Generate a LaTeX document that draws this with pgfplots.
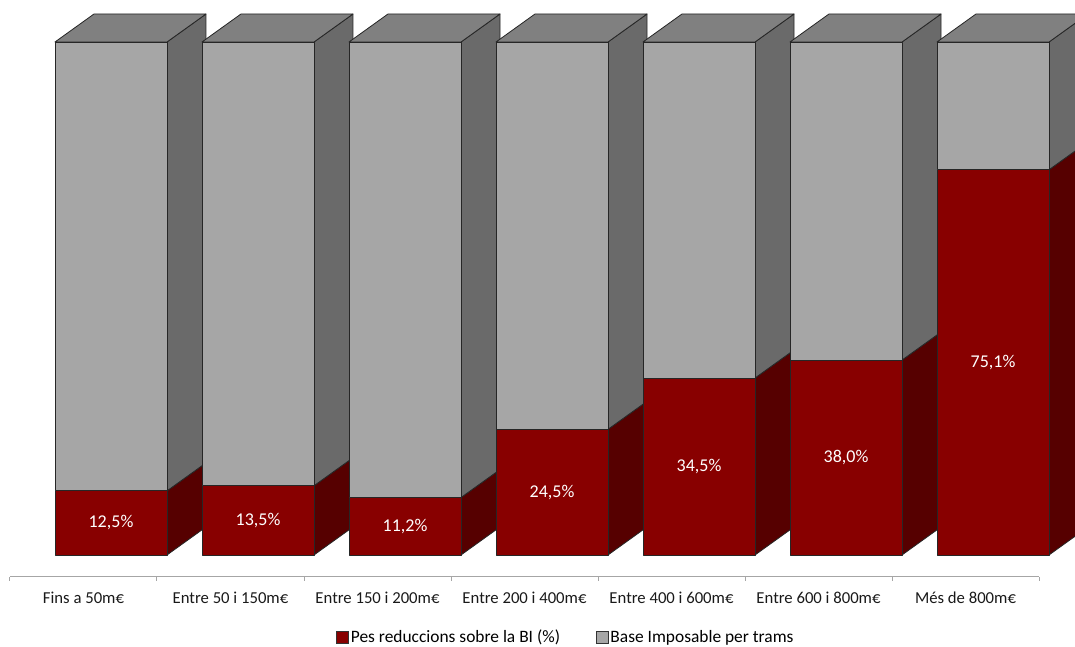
\documentclass[border=0pt]{standalone}
\usepackage{pgfplots}
\pgfplotsset{compat=1.18}
\usepackage{pgfplotstable}
\usepackage{fontspec}
\setmainfont{Carlito}

\definecolor{redfront}{HTML}{880000}
\definecolor{redside}{HTML}{560000}
\definecolor{grayfront}{HTML}{A6A6A6}
\definecolor{grayside}{HTML}{6A6A6A}
\definecolor{graytop}{HTML}{808080}
\definecolor{edge}{HTML}{262626}
\definecolor{axisgray}{HTML}{A6A6A6}

% share of the reductions in the taxable base, per bracket (%)
\pgfplotstableread{
x v
0 12.5
1 13.5
2 11.2
3 24.5
4 34.5
5 38.0
6 75.1
}\bitable

\begin{document}
\begin{tikzpicture}
\begin{axis}[
  scale only axis, width=1075pt, height=577pt,
  xmin=-0.5680, xmax=6.7449, ymin=-4.288, ymax=108.19,
  clip=false,
  axis x line*=bottom, axis y line=none,
  x axis line style={draw=none},
  xtick={-0.5,0.5,...,6.5}, x tick label as interval,
  xticklabels={Fins a 50m€, Entre 50 i 150m€, Entre 150 i 200m€, Entre 200 i 400m€,
               Entre 400 i 600m€, Entre 600 i 800m€, Més de 800m€, {}},
  tick align=outside, major tick length=4pt,
  x tick style={draw=axisgray, line width=1pt},
  xticklabel style={font=\fontsize{16.7}{20}\selectfont, text=black!90, yshift=-7pt},
  legend style={at={(0.5265,-0.104)}, anchor=center, draw=none, fill=none,
    legend columns=2, font=\fontsize{17.4}{21}\selectfont,
    /tikz/every even column/.append style={column sep=34pt}},
  legend cell align=left,
]
% 3D bars: side faces, top face, then front faces
\pgfplotsforeachungrouped \i in {0,...,6}{%
  \pgfplotstablegetelem{\i}{v}\of\bitable
  \let\v\pgfplotsretval
  \pgfmathsetmacro\xl{\i-0.194}%
  \pgfmathsetmacro\xr{\i+0.568}%
  \pgfmathsetmacro\xlb{\i-0.194+0.2653}%
  \pgfmathsetmacro\xrb{\i+0.568+0.2653}%
  \pgfmathsetmacro\vb{\v+5.46}%
  \edef\drawbar{%
    \noexpand\addplot[forget plot, mark=none, fill=redside, draw=edge, line width=0.8pt, line join=round]
      coordinates {(\xr,0) (\xrb,5.46) (\xrb,\vb) (\xr,\v)} -- cycle;
    \noexpand\addplot[forget plot, mark=none, fill=grayside, draw=edge, line width=0.8pt, line join=round]
      coordinates {(\xr,\v) (\xrb,\vb) (\xrb,105.46) (\xr,100)} -- cycle;
    \noexpand\addplot[forget plot, mark=none, fill=graytop, draw=edge, line width=0.8pt, line join=round]
      coordinates {(\xl,100) (\xr,100) (\xrb,105.46) (\xlb,105.46)} -- cycle;
    \noexpand\addplot[forget plot, mark=none, fill=redfront, draw=edge, line width=0.8pt, line join=round]
      coordinates {(\xl,0) (\xr,0) (\xr,\v) (\xl,\v)} -- cycle;
    \noexpand\addplot[forget plot, mark=none, fill=grayfront, draw=edge, line width=0.8pt, line join=round]
      coordinates {(\xl,\v) (\xr,\v) (\xr,100) (\xl,100)} -- cycle;
  }%
  \drawbar
}
% value labels on the red faces
\addplot[forget plot, draw=none, mark=none, point meta=explicit,
  nodes near coords={\pgfmathprintnumber[fixed,fixed zerofill,precision=1,use comma,assume math mode=true]{\pgfplotspointmeta}\%},
  nodes near coords style={anchor=center, text=white, font=\fontsize{18}{21}\selectfont}]
  table[x expr=\thisrow{x}+0.187, y expr=\thisrow{v}/2, meta=v] {\bitable};
% category axis line
\draw[axisgray, line width=1pt] (axis cs:-0.5,-4.288) -- (axis cs:6.5,-4.288);
\addlegendimage{legend image code/.code={\draw[fill=redfront,draw=black!80] (0pt,-6pt) rectangle (12pt,6pt);}}
\addlegendentry{Pes reduccions sobre la BI (\%)}
\addlegendimage{legend image code/.code={\draw[fill=grayfront,draw=black!80] (0pt,-6pt) rectangle (12pt,6pt);}}
\addlegendentry{Base Imposable per trams}
\end{axis}
\pgfresetboundingbox
\useasboundingbox (current axis.south west) ++(0,-70pt) rectangle (current axis.north east);
\end{tikzpicture}
\end{document}
